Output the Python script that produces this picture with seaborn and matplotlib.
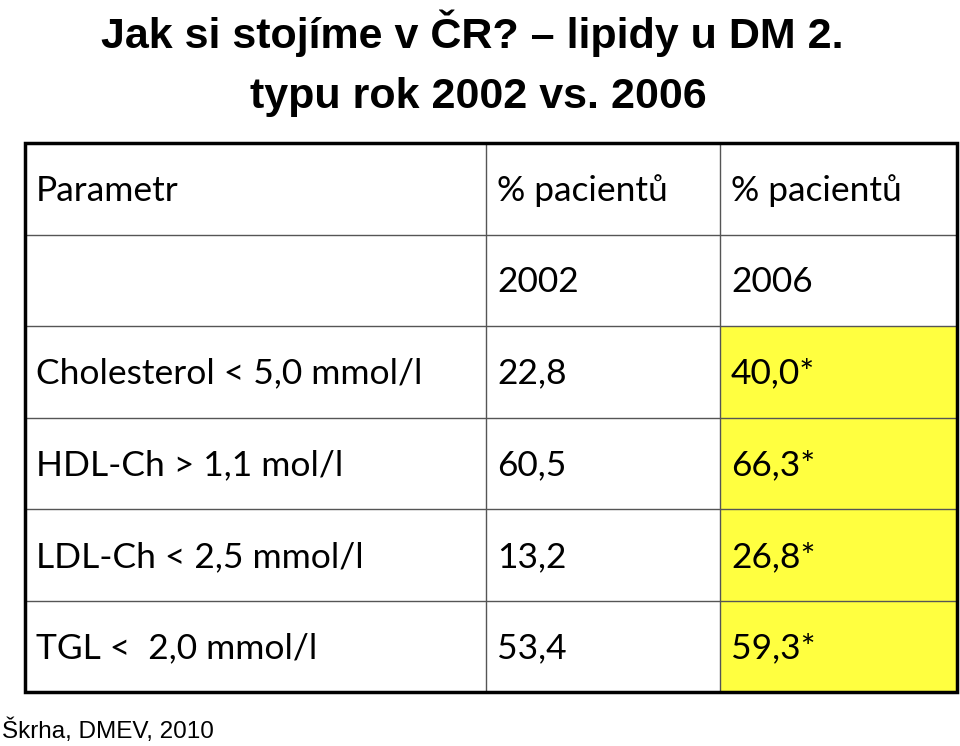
import matplotlib
matplotlib.use("Agg")
import matplotlib.pyplot as plt
import seaborn as sns
import numpy as np
from matplotlib.colors import ListedColormap

title_lines = ["Jak si stojíme v ČR? – lipidy u DM 2.", "typu rok 2002 vs. 2006"]
header1 = ["Parametr", "% pacientů", "% pacientů"]
header2 = ["", "2002", "2006"]
params = ["Cholesterol < 5,0 mmol/l", "HDL-Ch > 1,1 mol/l", "LDL-Ch < 2,5 mmol/l", "TGL <  2,0 mmol/l"]
vals_2002 = ["22,8", "60,5", "13,2", "53,4"]
vals_2006 = ["40,0*", "66,3*", "26,8*", "59,3*"]
highlight = [False, False, True, True, True, True]  # per row, 2006 column
source = "Škrha, DMEV, 2010"

sns.set_theme(style="white")
fig = plt.figure(figsize=(9.6, 7.46), dpi=100)
ax = fig.add_axes([0, 0, 1, 1])

rows = [header1, header2] + [[p, a, b] for p, a, b in zip(params, vals_2002, vals_2006)]
nrow = len(rows)
xs = [25, 486, 720, 957]
top, bot = 143, 692
ys = np.linspace(top, bot, nrow + 1)

mask = np.array([[0, 0, 1 if h else 0] for h in highlight], dtype=float)
sns.heatmap(mask, ax=ax, cmap=ListedColormap(["white", "#FFFF40"]), cbar=False,
            vmin=0, vmax=1, linewidths=0)
ax.collections[0].remove()
for i in range(nrow):
    for j in range(3):
        color = "#FFFF40" if (j == 2 and highlight[i]) else "white"
        ax.add_patch(plt.Rectangle((xs[j], ys[i]), xs[j+1]-xs[j], ys[i+1]-ys[i], color=color, lw=0, zorder=0))
ax.set_xlim(0, 960); ax.set_ylim(746, 0); ax.axis("off")

for y in ys[1:-1]:
    ax.plot([xs[0], xs[-1]], [y, y], color="#555555", lw=1, zorder=2)
for x in xs[1:-1]:
    ax.plot([x, x], [top, bot], color="#555555", lw=1, zorder=2)
ax.add_patch(plt.Rectangle((xs[0], top), xs[-1]-xs[0], bot-top, fill=False, ec="black", lw=2.5, zorder=3))

for i, r in enumerate(rows):
    yc = (ys[i] + ys[i+1]) / 2 + 2
    for j, t in enumerate(r):
        ax.text(xs[j] + 11, yc, t, fontsize=25.5, family="Lato", va="center", ha="left", color="black", zorder=4)

ax.text(472, 33, title_lines[0], fontsize=31, fontweight="bold", family="Liberation Sans",
        ha="center", va="center", color="black")
ax.text(478, 97, title_lines[1], fontsize=31, fontweight="bold", family="Liberation Sans",
        ha="center", va="center", color="black")
ax.text(2, 731, source, fontsize=17.5, family="Liberation Sans", ha="left", va="center", color="black")

fig.savefig("out.png", dpi=100)
